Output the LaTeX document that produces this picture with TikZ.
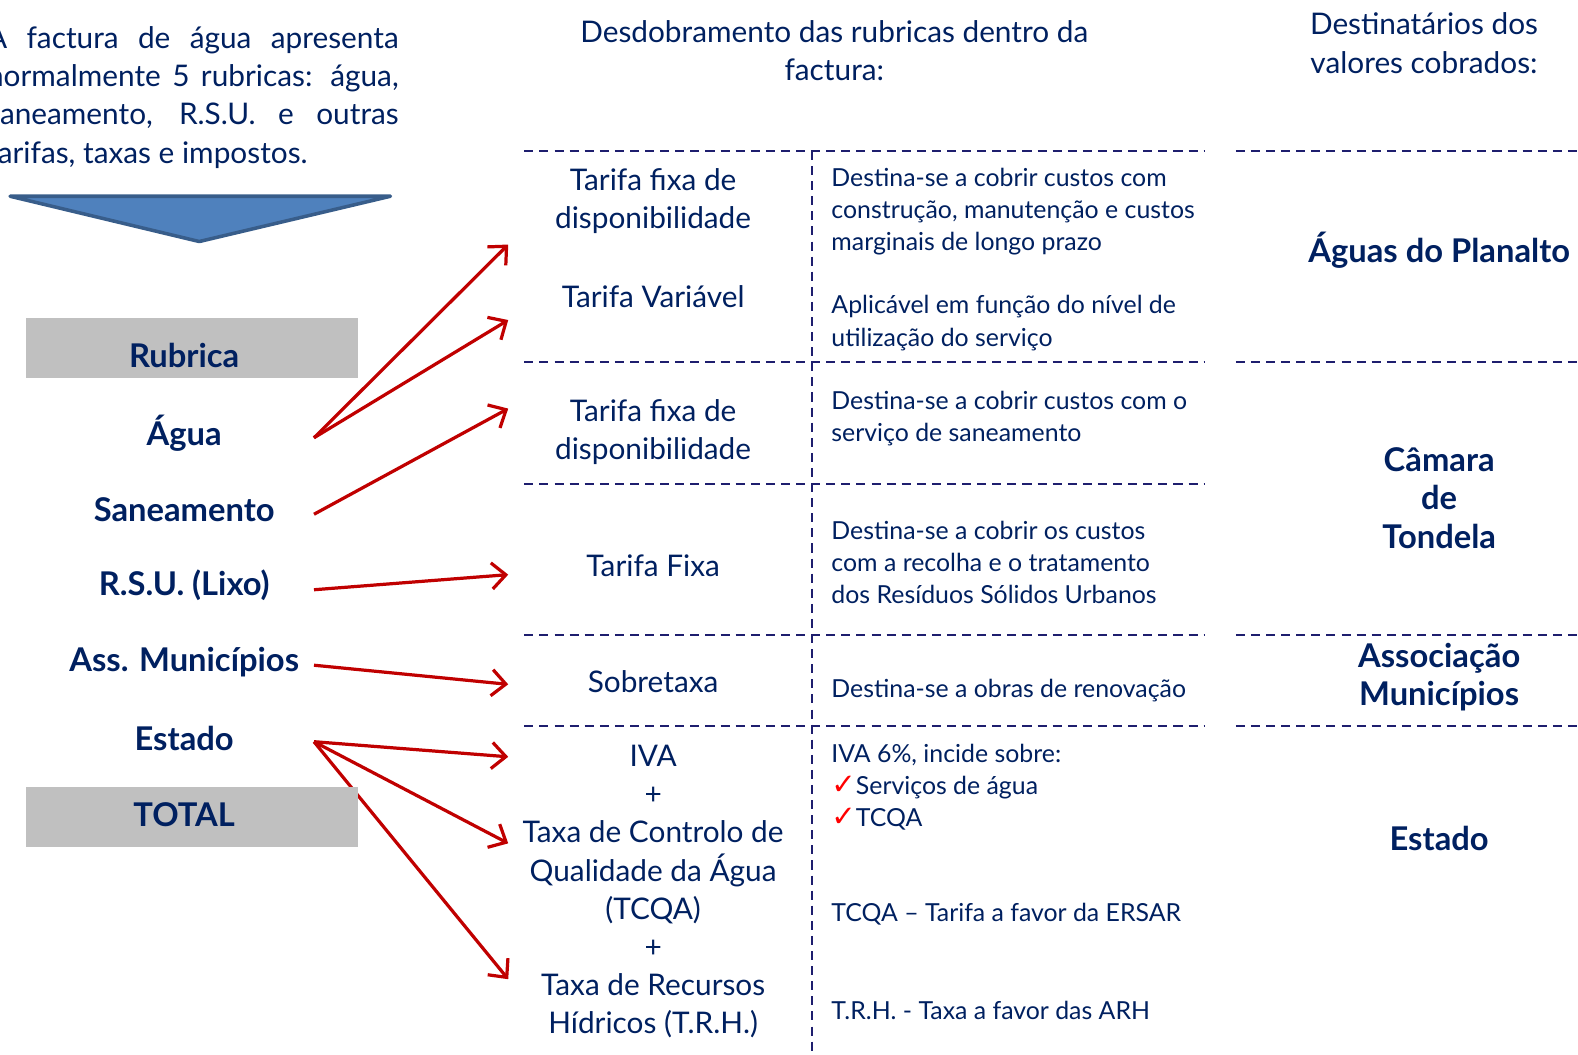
\documentclass[tikz,border=0pt]{standalone}
\usepackage{fontspec}
\setmainfont{Lato}
\newfontfamily\symfont{DejaVu Sans}
\usetikzlibrary{arrows.meta}
\definecolor{navy}{RGB}{0,32,96}
\definecolor{dashblue}{RGB}{30,30,110}
\definecolor{arrred}{RGB}{192,0,0}
\definecolor{chkred}{RGB}{255,0,0}
\definecolor{chevfill}{RGB}{79,129,189}
\definecolor{chevline}{RGB}{56,93,138}
\definecolor{boxgray}{RGB}{192,192,192}
\newcommand{\chkmark}{{\color{chkred}\symfont\bfseries\fontsize{29}{32}\selectfont ✓}}
\begin{document}
\begin{tikzpicture}[x=1pt,y=-1pt,
  maintext/.style={text=navy, font=\fontsize{29.6}{38}\selectfont, align=center, inner sep=0pt},
  desc/.style={text=navy, font=\fontsize{24.7}{32}\selectfont, align=left, anchor=west, inner sep=0pt},
  boldlbl/.style={text=navy, font=\fontsize{32.5}{38}\selectfont\bfseries, align=center, inner sep=0pt},
  graybox/.style={fill=boxgray, minimum width=330pt, minimum height=60pt, inner sep=0pt},
  dashln/.style={draw=dashblue, line width=2pt, dash pattern=on 9pt off 6pt},
  redarrow/.style={draw=arrred, line width=3.2pt, -{Straight Barb[length=14pt,width=26pt]}}]
\useasboundingbox (0,0) rectangle (1568,1048);

% intro paragraph
\node[text=navy, font=\fontsize{29.6}{38}\selectfont, text width=409pt, align=justify, anchor=north west, inner sep=0pt] (intro) at (-13,26)
 {\hyphenpenalty=10000 A factura de água apresenta\linebreak normalmente 5 rubricas: água,\linebreak saneamento, R.S.U. e outras\linebreak tarifas, taxas e impostos.};

% chevron
\coordinate (chA) at (10,195);
\coordinate (chB) at (388,195);
\coordinate (chC) at (198,240);
\draw[fill=chevfill, draw=chevline, line width=3.5pt, line join=round] (chA) -- (chB) -- (chC) -- cycle;

% headers
\node[maintext] (hdr) at (829,50) {Desdobramento das rubricas dentro da\\factura:};
\node[maintext] (dest) at (1415,43) {Destinatários dos\\valores cobrados:};

% dashed grid
\foreach \y/\n in {150/1,360/2,481/3,631/4,721/5}{
  \coordinate (dl\n) at (521,\y);
  \coordinate (dr\n) at (1197,\y);
  \draw[dashln] (dl\n) -- (dr\n);
}
\foreach \y/\n in {150/1,360/2,631/4,721/5}{
  \coordinate (el\n) at (1228,\y);
  \coordinate (er\n) at (1568,\y);
  \draw[dashln] (el\n) -- (er\n);
}
\coordinate (vt) at (807,150);
\coordinate (vb) at (807,1048);
\draw[dashln] (vt) -- (vb);

% left column labels
\coordinate (a1s) at (312,435);
\coordinate (a3s) at (312,511);
\coordinate (a4s) at (312,586);
\coordinate (a5s) at (312,661);
\coordinate (a6s) at (312,737);
\node[boldlbl] (agua) at (183,430) {Água};
\node[boldlbl] (san) at (183,506) {Saneamento};
\node[boldlbl] (rsu) at (183,582) {R.S.U. (Lixo)};
\node[boldlbl] (ass) at (183,658) {Ass. Municípios};
\node[boldlbl] (est) at (183,734) {Estado};

% column 2
\node[maintext] (t1) at (649,200) {Tarifa fixa de\\disponibilidade};
\node[maintext] (t2) at (649,295) {Tarifa Variável};
\node[maintext] (t3) at (649,429) {Tarifa fixa de\\disponibilidade};
\node[maintext] (t4) at (649,562) {Tarifa Fixa};
\node[maintext] (t5) at (649,677) {Sobretaxa};
\node[maintext] (t6) at (649,886) {IVA\\+\\Taxa de Controlo de\\Qualidade da Água\\(TCQA)\\+\\Taxa de Recursos\\Hídricos (T.R.H.)};

% arrow targets
\coordinate (a1e) at (505,243);
\coordinate (a2e) at (505,318);
\coordinate (a3e) at (505,406);
\coordinate (a4e) at (505,571);
\coordinate (a5e) at (505,680);
\coordinate (a6e) at (505,752);
\coordinate (a7e) at (505,838);
\coordinate (a8e) at (505,973);
\draw[redarrow] (a1s) -- (a1e);
\draw[redarrow] (a1s) -- (a2e);
\draw[redarrow] (a3s) -- (a3e);
\draw[redarrow] (a4s) -- (a4e);
\draw[redarrow] (a5s) -- (a5e);
\draw[redarrow] (a6s) -- (a6e);
\draw[redarrow] (a6s) -- (a7e);
\draw[redarrow] (a6s) -- (a8e);

% gray boxes (over arrows)
\node[graybox] (rubbox) at (191,346) {};
\node[boldlbl] (rub) at (183,353) {Rubrica};
\node[graybox] (totbox) at (191,812) {};
\node[boldlbl] (tot) at (183,810) {TOTAL};

% column 3
\node[desc] (d1) at (826,210) {Destina-se a cobrir custos com\\construção, manutenção e custos\\marginais de longo prazo};
\node[desc] (d2) at (826,321) {Aplicável em função do nível de\\utilização do serviço};
\node[desc] (d3) at (826,416) {Destina-se a cobrir custos com o\\serviço de saneamento};
\node[desc] (d4) at (826,559) {Destina-se a cobrir os custos\\com a recolha e o tratamento\\dos Resíduos Sólidos Urbanos};
\node[desc] (d5) at (826,686) {Destina-se a obras de renovação};
\node[desc] (d6) at (826,782) {IVA 6\%, incide sobre:\\\chkmark Serviços de água\\\chkmark TCQA};
\node[desc] (d7) at (826,908) {TCQA – Tarifa a favor da ERSAR};
\node[desc] (d8) at (826,1004) {T.R.H. - Taxa a favor das ARH};

% right column
\node[boldlbl] (r1) at (1430,249) {Águas do Planalto};
\node[boldlbl] (r2) at (1430,495) {Câmara\\de\\Tondela};
\node[boldlbl] (r3) at (1430,673) {Associação\\Municípios};
\node[boldlbl] (r4) at (1430,833) {Estado};
\end{tikzpicture}
\end{document}
